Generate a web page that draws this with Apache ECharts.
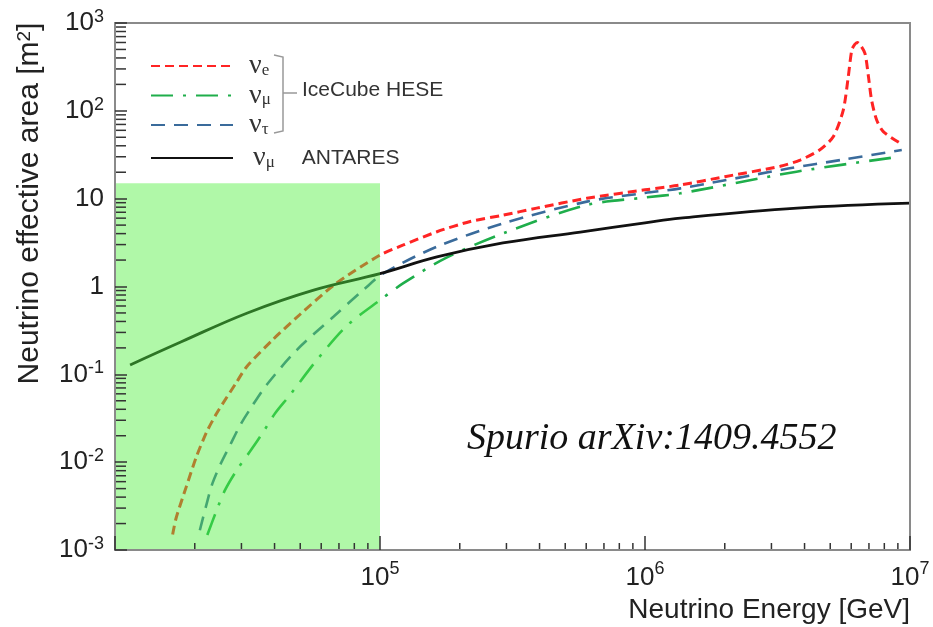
<!DOCTYPE html>
<html><head><meta charset="utf-8">
<script src="https://cdn.jsdelivr.net/npm/echarts@6/dist/echarts.min.js"></script>
<style>html,body{margin:0;padding:0;background:#fff}#c{width:933px;height:627px}</style>
</head><body><div id="c"></div>
<script>
// ---- data (energy in GeV, effective area in m^2) ----
const nueEnergy = [1.65e4, 1.70e4, 1.86e4, 2.03e4, 2.22e4, 2.42e4, 2.88e4, 3.14e4, 3.95e4, 4.99e4, 6.76e4, 1.0e5, 1.225e5, 1.64e5, 2.19e5, 2.92e5, 3.9e5, 6.03e5, 1.0e6, 1.36e6, 2.0e6, 3.24e6, 3.85e6, 4.57e6, 5.14e6, 5.60e6, 5.85e6, 6.03e6, 6.19e6, 6.33e6, 6.47e6, 6.76e6, 6.97e6, 7.16e6, 7.48e6, 7.93e6, 9.16e6];
const nueArea   = [0.0015, 0.0023, 0.0053, 0.0116, 0.0222, 0.036, 0.082, 0.122, 0.25, 0.48, 1.06, 2.28, 2.97, 4.2, 5.5, 6.5, 7.8, 10.1, 12.6, 14.3, 17.8, 23.4, 27.5, 36, 51, 102, 245, 493, 570, 600, 570, 452, 245, 133, 79, 58, 43];

const numuEnergy = [2.23e4, 2.42e4, 2.60e4, 2.88e4, 3.23e4, 3.63e4, 4.02e4, 4.57e4, 5.77e4, 7.48e4, 1.0e5, 1.225e5, 1.76e5, 2.92e5, 6.03e5, 1.0e6, 1.36e6, 3.73e6, 9.16e6];
const numuArea   = [0.00148, 0.00285, 0.0048, 0.0081, 0.0132, 0.0222, 0.036, 0.058, 0.145, 0.355, 0.70, 1.09, 2.09, 4.04, 8.47, 10.3, 11.5, 20.3, 30.1];

const nutauEnergy = [2.09e4, 2.22e4, 2.33e4, 2.51e4, 2.72e4, 2.97e4, 3.28e4, 3.73e4, 4.85e4, 6.67e4, 8.65e4, 1.03e5, 1.64e5, 2.92e5, 6.03e5, 1.0e6, 1.36e6, 3.47e6, 5.62e6, 9.31e6];
const nutauArea   = [0.00168, 0.0034, 0.0057, 0.0097, 0.0157, 0.0265, 0.0428, 0.0755, 0.189, 0.453, 0.912, 1.41, 2.84, 5.24, 9.25, 11.6, 13.1, 22, 27.9, 35.8];

const antaresEnergy = [1.14e4, 1.78e4, 3.16e4, 5.62e4, 1.0e5, 1.64e5, 2.91e5, 5.7e5, 1.0e6, 1.36e6, 3.75e6, 1.0e7];
const antaresArea   = [0.128, 0.235, 0.50, 0.91, 1.40, 2.17, 3.13, 4.17, 5.3, 6.0, 7.8, 8.9];

// shaded region: [E from, A from, E to, A to]
const shadedRegion = [[1e4, 1e-3, 1e5, 15]];

// axis ranges and minor tick positions
const xRange = [1e4, 1e7];
const yRange = [1e-3, 1e3];
const minorMantissas = [2, 3, 4, 5, 6, 7, 8, 9];
const xDecades = [1e4, 1e5, 1e6];
const yDecades = [1e-3, 1e-2, 1e-1, 1, 10, 100];

const legendNames = { 'νe': ['ν', 'e'], 'νμ': ['ν', 'μ'], 'ντ': ['ν', 'τ'] };

// ---- build ----
const zip = (a, b) => a.map((v, i) => [v, b[i]]);
const xMinor = xDecades.flatMap(d => minorMantissas.map(m => [m * d, yRange[0]]));
const yMinor = yDecades.flatMap(d => minorMantissas.map(m => [xRange[0], m * d]));

const SANS = '"Liberation Sans", Arial, Helvetica, sans-serif';
const SERIF = '"Liberation Serif", "Times New Roman", serif';

function powLabel(v, hideExp) {
  const e = Math.round(Math.log10(v));
  if (e === hideExp) return '';
  if (e === 0) return '{b|1}';
  if (e === 1) return '{b|10}';
  return '{b|10}{s|' + e + '}';
}

const chart = echarts.init(document.getElementById('c'), null, { renderer: 'canvas' });
chart.setOption({
  animation: false,
  backgroundColor: '#fff',
  grid: { left: 115, right: 23, top: 23, bottom: 77, show: true, borderColor: '#8a8a8a', borderWidth: 2, z: 10 },
  xAxis: {
    type: 'log', logBase: 10, min: xRange[0], max: xRange[1], splitNumber: 3, z: 10,
    axisLine: { show: true, lineStyle: { color: '#8a8a8a', width: 2 } },
    axisTick: { show: true, inside: true, length: 14, lineStyle: { color: '#333', width: 1.5 } },
    splitLine: { show: false },
    axisLabel: {
      margin: 10, formatter: v => powLabel(v, 4),
      rich: {
        b: { fontFamily: SANS, fontSize: 26, lineHeight: 36, color: '#222' },
        s: { fontFamily: SANS, fontSize: 18, lineHeight: 16, verticalAlign: 'top', color: '#222' }
      }
    },
    name: 'Neutrino Energy [GeV]', nameLocation: 'end', nameGap: 0,
    nameTextStyle: { fontFamily: SANS, fontSize: 28, color: '#222', align: 'right', verticalAlign: 'top', padding: [46, 0, 0, 0] }
  },
  yAxis: {
    type: 'log', logBase: 10, min: yRange[0], max: yRange[1], splitNumber: 6, z: 10,
    axisLine: { show: true, lineStyle: { color: '#8a8a8a', width: 2 } },
    axisTick: { show: true, inside: true, length: 12, lineStyle: { color: '#333', width: 1.5 } },
    splitLine: { show: false },
    axisLabel: {
      margin: 11, showMinLabel: true, showMaxLabel: true, formatter: v => powLabel(v, null),
      rich: {
        b: { fontFamily: SANS, fontSize: 26, lineHeight: 30, color: '#222' },
        s: { fontFamily: SANS, fontSize: 18, lineHeight: 16, verticalAlign: 'top', color: '#222' }
      }
    },
    name: 'Neutrino effective area [m{sup|2}]', nameLocation: 'middle', nameRotate: 90, nameGap: 70,
    nameTextStyle: {
      fontFamily: SANS, fontSize: 30, color: '#222', padding: [0, 0, 0, 166],
      rich: { sup: { fontFamily: SANS, fontSize: 19, verticalAlign: 'top', lineHeight: 16, color: '#222' } }
    }
  },
  legend: [
    {
      data: ['νe', 'νμ', 'ντ'], orient: 'vertical', left: 150, top: 52, padding: 0, itemGap: 1.5,
      itemWidth: 82, itemHeight: 14, itemStyle: { opacity: 0 }, selectedMode: false,
      formatter: n => '{nu|' + legendNames[n][0] + '}{sub|' + legendNames[n][1] + '}',
      textStyle: {
        rich: {
          nu: { fontFamily: SERIF, fontSize: 28, lineHeight: 26, color: '#333', padding: [0, 0, 0, 11] },
          sub: { fontFamily: SERIF, fontSize: 17, lineHeight: 13, verticalAlign: 'bottom', color: '#333' }
        }
      }
    },
    {
      data: ['ANTARES'], orient: 'vertical', left: 150, top: 144, padding: 0,
      itemWidth: 82, itemHeight: 14, itemStyle: { opacity: 0 }, selectedMode: false,
      formatter: () => '{nu|ν}{sub|μ}{gap|}{txt|ANTARES}',
      textStyle: {
        rich: {
          nu: { fontFamily: SERIF, fontSize: 28, lineHeight: 26, color: '#333', padding: [0, 0, 0, 15] },
          sub: { fontFamily: SERIF, fontSize: 17, lineHeight: 13, verticalAlign: 'bottom', color: '#333' },
          gap: { width: 27 },
          txt: { fontFamily: SANS, fontSize: 21, lineHeight: 26, color: '#333' }
        }
      }
    }
  ],
  graphic: [
    { type: 'polyline', z: 20, shape: { points: [[274, 55], [283, 57], [283, 131], [274, 133]] }, style: { stroke: '#999', lineWidth: 1.5, fill: null } },
    { type: 'line', z: 20, shape: { x1: 283, y1: 93, x2: 297, y2: 93 }, style: { stroke: '#999', lineWidth: 1.5 } },
    { type: 'text', z: 20, left: 302, top: 80, style: { text: 'IceCube HESE', font: '21px ' + SANS, fill: '#333' } },
    { type: 'text', z: 20, left: 467, top: 420, style: { text: 'Spurio arXiv:1409.4552', font: 'italic 38px ' + SERIF, fill: '#111' } }
  ],
  series: [
    { name: 'νe', type: 'line', data: zip(nueEnergy, nueArea), symbol: 'none', smooth: 0.25, z: 3,
      lineStyle: { color: '#ff2424', width: 3, type: [9, 5] }, itemStyle: { color: '#ff2424' } },
    { name: 'νμ', type: 'line', data: zip(numuEnergy, numuArea), symbol: 'none', smooth: 0.3, z: 3,
      lineStyle: { color: '#1fae4b', width: 2.6, type: [22, 10, 3, 10] }, itemStyle: { color: '#1fae4b' } },
    { name: 'ντ', type: 'line', data: zip(nutauEnergy, nutauArea), symbol: 'none', smooth: 0.3, z: 3,
      lineStyle: { color: '#3a6b9b', width: 2.6, type: [14, 9] }, itemStyle: { color: '#3a6b9b' } },
    { name: 'ANTARES', type: 'line', data: zip(antaresEnergy, antaresArea), symbol: 'none', smooth: 0.4, z: 3,
      lineStyle: { color: '#111', width: 2.8 }, itemStyle: { color: '#111' } },
    { type: 'custom', name: 'region', data: shadedRegion, encode: { x: [0, 2], y: [1, 3] }, z: 5, silent: true,
      renderItem: (params, api) => {
        const p0 = api.coord([api.value(0), api.value(1)]);
        const p1 = api.coord([api.value(2), api.value(3)]);
        return { type: 'rect', shape: { x: p0[0], y: p1[1], width: p1[0] - p0[0], height: p0[1] - p1[1] },
                 style: { fill: 'rgba(80,240,62,0.45)' } };
      } },
    { type: 'custom', name: 'xminor', data: xMinor, encode: { x: 0, y: 1 }, z: 6, silent: true,
      renderItem: (params, api) => {
        const p = api.coord([api.value(0), api.value(1)]);
        return { type: 'line', shape: { x1: p[0], y1: p[1], x2: p[0], y2: p[1] - 7 }, style: { stroke: '#333', lineWidth: 1.5 } };
      } },
    { type: 'custom', name: 'yminor', data: yMinor, encode: { x: 0, y: 1 }, z: 6, silent: true,
      renderItem: (params, api) => {
        const p = api.coord([api.value(0), api.value(1)]);
        return { type: 'line', shape: { x1: p[0], y1: p[1], x2: p[0] + 11, y2: p[1] }, style: { stroke: '#333', lineWidth: 1.5 } };
      } }
  ]
});
</script>
</body></html>
